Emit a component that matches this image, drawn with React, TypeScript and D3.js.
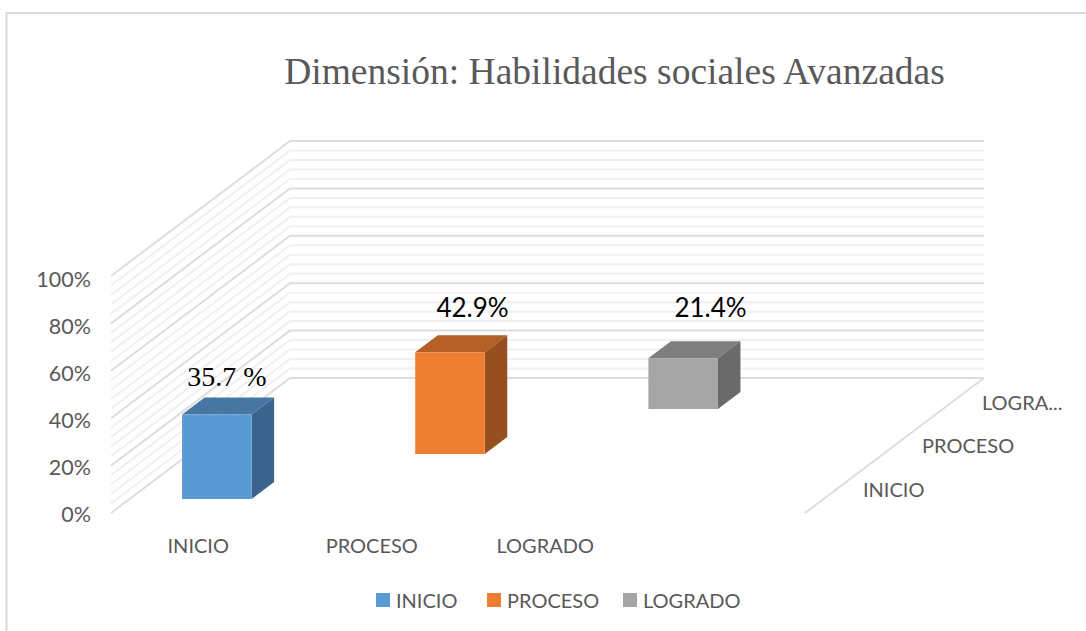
import React from "react";
import * as d3 from "d3";

const categories = ["INICIO", "PROCESO", "LOGRADO"];
const values = [35.7, 42.9, 21.4];
const valueLabels = ["35.7 %", "42.9%", "21.4%"];
const colors = ["#5b9bd5", "#ed7d31", "#a5a5a5"];
const topColors = ["#4876a2", "#b45f26", "#7e7e7e"];
const sideColors = ["#3a648c", "#964f1e", "#6a6a6a"];
const depthLabels = ["INICIO", "PROCESO", "LOGRA..."];
const yTicks = [0, 20, 40, 60, 80, 100];
const title = "Dimensión: Habilidades sociales Avanzadas";

const SANS = "Lato, Carlito, Calibri, sans-serif";
const SERIF = "'Liberation Serif', 'Times New Roman', serif";

const x = d3.scaleBand<string>().domain(categories).range([111.5, 632]);
const y = d3.scaleLinear().domain([0, 100]).range([0, 237]);
const depth = d3.scaleLinear().domain([0, 1]).range([0, 1]);
const DX = 179;
const DY = 135;
const BASE = 513;
const FLOOR_W = 694;
const px = (xv: number, d: number) => xv + DX * depth(d);
const py = (v: number, d: number) => BASE - DY * depth(d) - y(v);
const labelY = d3.scaleLinear().domain([0, 100]).range([514, 279]);
const poly = (pts: [number, number][]) => pts.map((p) => p.join(",")).join(" ");

const BAR_W = 69.5;
const BAR_D = 0.126;

export default function App() {
  const minor = d3.range(0, 101, 4);
  return (
    <svg width={1086} height={631} style={{ position: "absolute", left: 0, top: 0, background: "#fff" }}>
      <rect x={6.5} y={13} width={1100} height={640} fill="#fff" stroke="#d9d9d9" strokeWidth={2} />
      <text x={614.5} y={84} textAnchor="middle" fontFamily={SERIF} fontSize={37.5} fill="#595959">{title}</text>

      <g style={{ filter: "blur(0.5px)" }}>
        {minor.map((v) => {
          const major = v % 20 === 0;
          return (
            <polyline
              key={v}
              points={poly([[px(111, 0), py(v, 0)], [px(111, 1), py(v, 1)], [px(111 + FLOOR_W, 1), py(v, 1)]])}
              fill="none"
              stroke={major ? "#dddddd" : "#f0f0f0"}
              strokeWidth={2}
            />
          );
        })}
        <line x1={px(111 + FLOOR_W, 0)} y1={py(0, 0)} x2={px(111 + FLOOR_W, 1)} y2={py(0, 1)} stroke="#dddddd" strokeWidth={2} />
      </g>

      {yTicks.map((t) => (
        <text key={t} x={91} y={labelY(t)} dy="0.35em" textAnchor="end" fontFamily={SANS} fontSize={21.5} fill="#595959">{t}%</text>
      ))}

      {categories.map((c, i) => {
        const d = (i + 0.5) / 3;
        const d0 = d - BAR_D / 2;
        const d1 = d + BAR_D / 2;
        const band = (x(c) as number) + x.bandwidth() / 2;
        const L = band - BAR_W / 2;
        const R = L + BAR_W;
        const v = values[i];
        return (
          <g key={c}>
            <polygon points={poly([[px(L, d0), py(v, d0)], [px(R, d0), py(v, d0)], [px(R, d1), py(v, d1)], [px(L, d1), py(v, d1)]])} fill={topColors[i]} />
            <polygon points={poly([[px(R, d0), py(v, d0)], [px(R, d1), py(v, d1)], [px(R, d1), py(0, d1)], [px(R, d0), py(0, d0)]])} fill={sideColors[i]} />
            <polygon points={poly([[px(L, d0), py(v, d0)], [px(R, d0), py(v, d0)], [px(R, d0), py(0, d0)], [px(L, d0), py(0, d0)]])} fill={colors[i]} />
          </g>
        );
      })}

      <text x={227} y={386} textAnchor="middle" fontFamily={SERIF} fontSize={28} fill="#000">{valueLabels[0]}</text>
      <text x={472.5} y={317} textAnchor="middle" fontFamily={SANS} fontSize={26} fill="#000">{valueLabels[1]}</text>
      <text x={710.5} y={317} textAnchor="middle" fontFamily={SANS} fontSize={26} fill="#000">{valueLabels[2]}</text>

      {categories.map((c) => (
        <text key={c} x={(x(c) as number) + x.bandwidth() / 2} y={553} textAnchor="middle" fontFamily={SANS} fontSize={20} fill="#595959">{c}</text>
      ))}

      {depthLabels.map((c, i) => (
        <text key={c} x={[863, 922, 982][i]} y={[497, 453, 410][i]} fontFamily={SANS} fontSize={20} fill="#595959">{c}</text>
      ))}

      {categories.map((c, i) => (
        <g key={c}>
          <rect x={[376, 487, 623][i]} y={593} width={14} height={14} fill={colors[i]} />
          <text x={[396, 507, 643][i]} y={608} fontFamily={SANS} fontSize={20} fill="#595959">{c}</text>
        </g>
      ))}
    </svg>
  );
}
